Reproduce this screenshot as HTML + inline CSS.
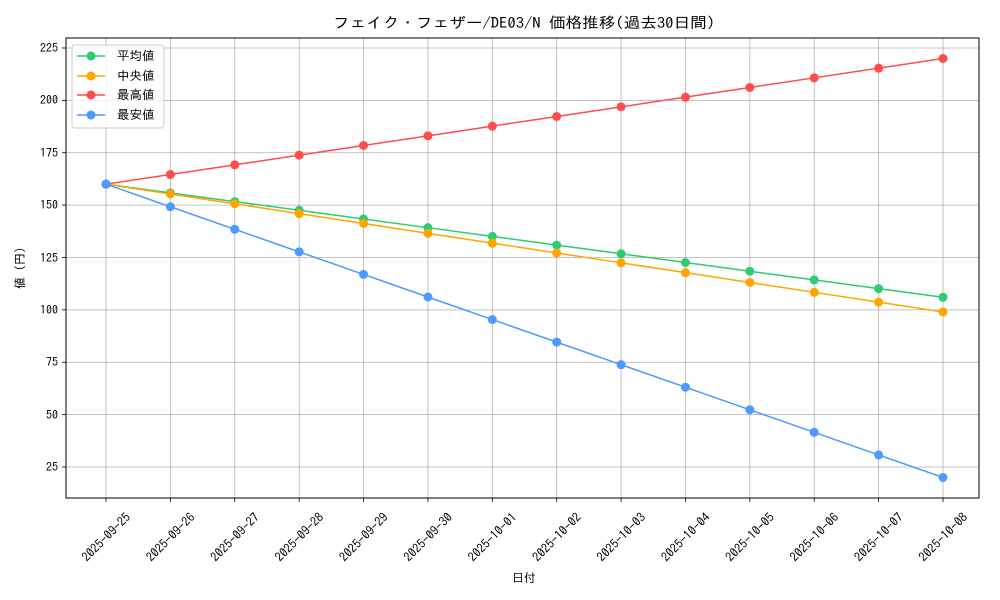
<!DOCTYPE html>
<html><head><meta charset="utf-8"><style>
body{margin:0;background:#fff}
svg{display:block;font-family:"IPAGothic","Liberation Sans","Noto Sans CJK JP",sans-serif}
</style></head><body>
<svg id="s" width="1000" height="600" xmlns="http://www.w3.org/2000/svg">
<rect width="1000" height="600" fill="#fff"/>
<g id="grid" stroke="#b0b0b0" stroke-width="0.8"></g>
<g id="series"></g>
<rect x="66" y="38" width="913" height="460" fill="none" stroke="#000" stroke-width="1"/>
<g id="ticks" stroke="#000" stroke-width="0.8"></g>
<text x="333" y="28" font-size="15" textLength="382" lengthAdjust="spacingAndGlyphs">フェイク・フェザー/DE03/N 価格推移(過去30日間)</text>
<g font-size="12" text-anchor="end">
<text x="58" y="471">25</text><text x="58" y="419">50</text><text x="58" y="366">75</text>
<text x="58" y="314">100</text><text x="58" y="262">125</text><text x="58" y="209">150</text>
<text x="58" y="157">175</text><text x="58" y="104">200</text><text x="58" y="52">225</text>
</g>
<g font-size="12.5" text-anchor="middle" dominant-baseline="central">
<text transform="translate(106,537) rotate(-45)">2025-09-25</text>
<text transform="translate(170.4,537) rotate(-45)">2025-09-26</text>
<text transform="translate(234.8,537) rotate(-45)">2025-09-27</text>
<text transform="translate(299.2,537) rotate(-45)">2025-09-28</text>
<text transform="translate(363.5,537) rotate(-45)">2025-09-29</text>
<text transform="translate(427.9,537) rotate(-45)">2025-09-30</text>
<text transform="translate(492.3,537) rotate(-45)">2025-10-01</text>
<text transform="translate(556.7,537) rotate(-45)">2025-10-02</text>
<text transform="translate(621.1,537) rotate(-45)">2025-10-03</text>
<text transform="translate(685.5,537) rotate(-45)">2025-10-04</text>
<text transform="translate(749.8,537) rotate(-45)">2025-10-05</text>
<text transform="translate(814.2,537) rotate(-45)">2025-10-06</text>
<text transform="translate(878.6,537) rotate(-45)">2025-10-07</text>
<text transform="translate(943,537) rotate(-45)">2025-10-08</text>
</g>
<text x="524" y="582" font-size="12" text-anchor="middle">日付</text>
<text transform="translate(24,268) rotate(-90)" font-size="12" text-anchor="middle">値 (円)</text>
<rect x="72" y="45" width="92" height="83" rx="3" fill="#fff" fill-opacity="0.8" stroke="#ccc"/>
<g stroke-width="1.5">
<line x1="77" y1="56" x2="105" y2="56" stroke="#2ecc71"/><circle cx="91" cy="56" r="4.5" fill="#2ecc71"/>
<line x1="77" y1="76" x2="105" y2="76" stroke="#ffa500"/><circle cx="91" cy="76" r="4.5" fill="#ffa500"/>
<line x1="77" y1="95" x2="105" y2="95" stroke="#ff4c4c"/><circle cx="91" cy="95" r="4.5" fill="#ff4c4c"/>
<line x1="77" y1="115" x2="105" y2="115" stroke="#4c9aff"/><circle cx="91" cy="115" r="4.5" fill="#4c9aff"/>
</g>
<g font-size="12.5"><text x="117" y="60">平均値</text><text x="117" y="80">中央値</text><text x="117" y="99">最高値</text><text x="117" y="119">最安値</text></g>
</svg>
<script>
const ns="http://www.w3.org/2000/svg";
function el(p,t,a){const e=document.createElementNS(ns,t);for(const k in a)e.setAttribute(k,a[k]);p.appendChild(e);return e;}
const X=i=>106+i*64.385, Y=v=>467-(v-25)*2.095;
const g=document.getElementById('grid'),tk=document.getElementById('ticks'),s=document.getElementById('series');
for(let i=0;i<14;i++){el(g,'line',{x1:X(i),x2:X(i),y1:38,y2:498});el(tk,'line',{x1:X(i),x2:X(i),y1:498,y2:502});}
for(let v=25;v<=225;v+=25){el(g,'line',{x1:66,x2:979,y1:Y(v),y2:Y(v)});el(tk,'line',{x1:62,x2:66,y1:Y(v),y2:Y(v)});}
const S=[[160,220,'#ff4c4c'],[160,106,'#2ecc71'],[160,99,'#ffa500'],[160,20,'#4c9aff']];
for(const [a,b,c] of [S[1],S[2],S[0],S[3]]){
 let pts=[];for(let i=0;i<14;i++)pts.push(X(i)+','+Y(a+(b-a)*i/13));
 el(s,'polyline',{points:pts.join(' '),fill:'none',stroke:c,'stroke-width':1.5});
 for(let i=0;i<14;i++)el(s,'circle',{cx:X(i),cy:Y(a+(b-a)*i/13),r:4.5,fill:c});
}
</script>
</body></html>
